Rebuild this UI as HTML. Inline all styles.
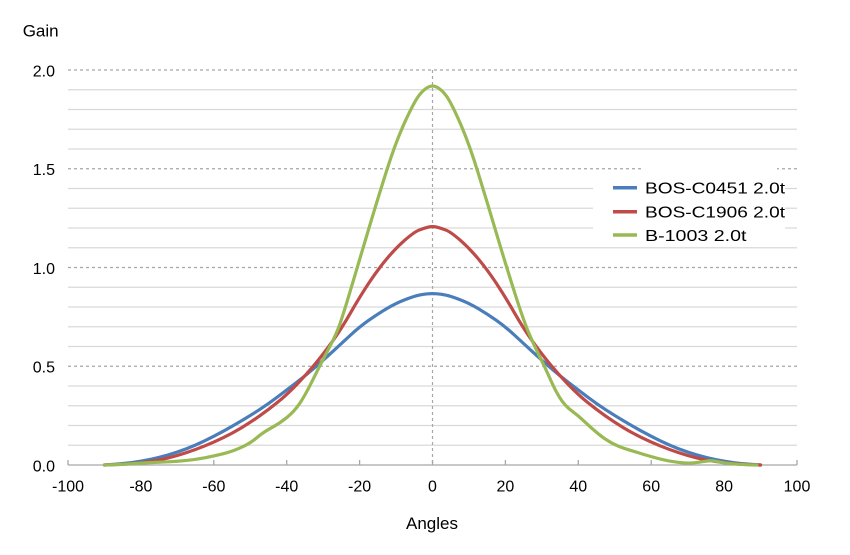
<!DOCTYPE html>
<html><head><meta charset="utf-8"><style>
html,body{margin:0;padding:0;background:#fff;}
svg{display:block;}
text{font-family:"Liberation Sans","Noto Sans CJK JP",sans-serif;fill:#000;}
</style></head><body>
<svg width="850" height="555" viewBox="0 0 850 555" xmlns="http://www.w3.org/2000/svg">
<rect x="0" y="0" width="850" height="555" fill="#fff"/>
<g stroke="#d9d9d9" stroke-width="1.3">
<line x1="68" x2="797" y1="445.25" y2="445.25"/>
<line x1="68" x2="797" y1="425.5" y2="425.5"/>
<line x1="68" x2="797" y1="405.75" y2="405.75"/>
<line x1="68" x2="797" y1="386" y2="386"/>
<line x1="68" x2="797" y1="346.5" y2="346.5"/>
<line x1="68" x2="797" y1="326.75" y2="326.75"/>
<line x1="68" x2="797" y1="307" y2="307"/>
<line x1="68" x2="797" y1="287.25" y2="287.25"/>
<line x1="68" x2="797" y1="247.75" y2="247.75"/>
<line x1="68" x2="797" y1="228" y2="228"/>
<line x1="68" x2="797" y1="208.25" y2="208.25"/>
<line x1="68" x2="797" y1="188.5" y2="188.5"/>
<line x1="68" x2="797" y1="149" y2="149"/>
<line x1="68" x2="797" y1="129.25" y2="129.25"/>
<line x1="68" x2="797" y1="109.5" y2="109.5"/>
<line x1="68" x2="797" y1="89.75" y2="89.75"/>
</g>
<g stroke="#a6a6a6" stroke-width="1.2" stroke-dasharray="3,3">
<line x1="68" x2="797" y1="366.25" y2="366.25"/>
<line x1="68" x2="797" y1="267.5" y2="267.5"/>
<line x1="68" x2="797" y1="168.75" y2="168.75"/>
<line x1="68" x2="797" y1="70" y2="70"/>
<line x1="432.5" x2="432.5" y1="70" y2="465"/>
</g>
<g stroke="#a6a6a6" stroke-width="1.3">
<line x1="68" x2="797" y1="465" y2="465"/>
<line x1="68" x2="68" y1="460" y2="465"/>
<line x1="140.9" x2="140.9" y1="460" y2="465"/>
<line x1="213.8" x2="213.8" y1="460" y2="465"/>
<line x1="286.7" x2="286.7" y1="460" y2="465"/>
<line x1="359.6" x2="359.6" y1="460" y2="465"/>
<line x1="432.5" x2="432.5" y1="460" y2="465"/>
<line x1="505.4" x2="505.4" y1="460" y2="465"/>
<line x1="578.3" x2="578.3" y1="460" y2="465"/>
<line x1="651.2" x2="651.2" y1="460" y2="465"/>
<line x1="724.1" x2="724.1" y1="460" y2="465"/>
<line x1="797" x2="797" y1="460" y2="465"/>
</g>
<g fill="none" stroke-width="3.2" stroke-linejoin="round" stroke-linecap="round">
<path stroke="#4a7ebb" d="M104.45,465 L113.58,464.4 Q122.7,463.8 131.8,462.53 Q140.9,461.25 150,459.38 Q159.1,457.5 168.23,454.85 Q177.35,452.2 186.48,448.73 Q195.6,445.25 204.7,440.83 Q213.8,436.4 222.9,431.45 Q232,426.5 241.13,421.05 Q250.25,415.6 259.38,409.7 Q268.5,403.8 277.6,396.9 Q286.7,390 295.8,383.05 Q304.9,376.1 314.03,368.2 Q323.15,360.3 332.28,351.9 Q341.4,343.5 350.5,335.13 Q359.6,326.75 368.7,320.33 Q377.8,313.9 386.93,308.48 Q396.05,303.05 405.18,299.58 Q414.3,296.1 418.85,295.15 Q423.4,294.2 427.95,293.8 Q432.5,293.4 437.05,293.8 Q441.6,294.2 446.15,295.15 Q450.7,296.1 459.82,299.58 Q468.95,303.05 478.07,308.48 Q487.2,313.9 496.3,320.33 Q505.4,326.75 514.5,335.13 Q523.6,343.5 532.72,351.9 Q541.85,360.3 550.97,368.2 Q560.1,376.1 569.2,383.05 Q578.3,390 587.4,396.9 Q596.5,403.8 605.62,409.7 Q614.75,415.6 623.87,421.05 Q633,426.5 642.1,431.45 Q651.2,436.4 660.3,440.83 Q669.4,445.25 678.52,448.73 Q687.65,452.2 696.77,454.85 Q705.9,457.5 715,459.38 Q724.1,461.25 733.2,462.53 Q742.3,463.8 751.42,464.4 L760.55,465"/>
<path stroke="#be4b48" d="M104.45,465 L113.58,464.7 Q122.7,464.4 131.8,463.6 Q140.9,462.8 150,461.45 Q159.1,460.1 168.23,457.9 Q177.35,455.7 186.48,452.65 Q195.6,449.6 204.7,445.95 Q213.8,442.3 222.9,437.85 Q232,433.4 241.13,427.95 Q250.25,422.5 259.38,416.1 Q268.5,409.7 277.6,402.3 Q286.7,394.9 295.8,385.5 Q304.9,376.1 314.03,365.25 Q323.15,354.4 332.28,341.55 Q341.4,328.7 350.5,312.9 Q359.6,297.1 368.7,283.3 Q377.8,269.5 386.93,258.63 Q396.05,247.75 405.18,239.85 Q414.3,231.95 418.85,230.18 Q423.4,228.4 427.95,227.2 Q432.5,226 437.05,227.2 Q441.6,228.4 446.15,230.18 Q450.7,231.95 459.82,239.85 Q468.95,247.75 478.07,258.63 Q487.2,269.5 496.3,283.3 Q505.4,297.1 514.5,312.9 Q523.6,328.7 532.72,341.55 Q541.85,354.4 550.97,365.25 Q560.1,376.1 569.2,385.5 Q578.3,394.9 587.4,402.3 Q596.5,409.7 605.62,416.1 Q614.75,422.5 623.87,427.95 Q633,433.4 642.1,437.85 Q651.2,442.3 660.3,445.95 Q669.4,449.6 678.52,452.65 Q687.65,455.7 696.77,457.9 Q705.9,460.1 715,461.45 Q724.1,462.8 733.2,463.6 Q742.3,464.4 751.42,464.7 L760.55,465"/>
<path stroke="#98b954" d="M104.45,465 L113.58,464.7 Q122.7,464.4 131.8,463.7 Q140.9,463 150,462.6 Q159.1,462.2 168.23,461.8 Q177.35,461.4 186.48,460.45 Q195.6,459.5 204.7,457.8 Q213.8,456.1 222.9,453.85 Q232,451.6 241.13,447.45 Q250.25,443.3 256.63,437.85 Q263,432.4 271.2,427.95 Q279.4,423.5 286.7,417.6 Q294,411.7 299.45,403.8 Q304.9,395.9 312.2,381.08 Q319.5,366.25 326.8,352.43 Q334.1,338.6 337.75,329.7 Q341.4,320.8 350.5,290.2 Q359.6,259.6 368.7,229 Q377.8,198.4 386.93,169.75 Q396.05,141.1 405.18,121.35 Q414.3,101.6 418.85,95.68 Q423.4,89.75 427.95,87.28 Q432.5,84.8 437.05,87.28 Q441.6,89.75 446.15,95.68 Q450.7,101.6 459.83,122.35 Q468.95,143.1 478.08,172.7 Q487.2,202.3 496.3,232.93 Q505.4,263.55 514.5,292.18 Q523.6,320.8 529.1,333.65 Q534.6,346.5 540.05,357.35 Q545.5,368.2 550.25,379.1 Q555,390 559.9,397.88 Q564.8,405.75 571.55,410.68 Q578.3,415.6 585.05,422.05 Q591.8,428.5 598.35,433.9 Q604.9,439.3 611.65,442.95 Q618.4,446.6 626.8,449.2 Q635.2,451.8 643.2,454.25 Q651.2,456.7 659.6,458.88 Q668,461.05 677.83,462.33 Q687.65,463.6 694.93,462.7 Q702.2,461.8 706.95,461.05 Q711.7,460.3 717.9,461.65 Q724.1,463 733.2,463.8 Q742.3,464.6 749.6,464.8 L756.9,465"/>
</g>
<rect x="593" y="170" width="192" height="76" fill="#fff"/>
<rect x="643" y="166.5" width="134" height="4" fill="#fff"/>
<g stroke-width="3.5" stroke-linecap="butt">
<line x1="613" x2="637" y1="187.7" y2="187.7" stroke="#4a7ebb"/>
<line x1="613" x2="637" y1="211.7" y2="211.7" stroke="#be4b48"/>
<line x1="613" x2="637" y1="235" y2="235" stroke="#98b954"/>
</g>
<g font-size="16">
<text x="645" y="193.5" textLength="140" lengthAdjust="spacingAndGlyphs">BOS-C0451 2.0t</text>
<text x="645" y="217.5" textLength="140" lengthAdjust="spacingAndGlyphs">BOS-C1906 2.0t</text>
<text x="645" y="241" textLength="101.5" lengthAdjust="spacingAndGlyphs">B-1003 2.0t</text>
</g>
<g font-size="16" text-anchor="end">
<text x="55" y="76.5">2.0</text>
<text x="55" y="175.2">1.5</text>
<text x="55" y="274">1.0</text>
<text x="55" y="372.7">0.5</text>
<text x="55" y="471.5">0.0</text>
</g>
<g font-size="16" text-anchor="middle">
<text x="68" y="491.5">-100</text>
<text x="140.9" y="491.5">-80</text>
<text x="213.8" y="491.5">-60</text>
<text x="286.7" y="491.5">-40</text>
<text x="359.6" y="491.5">-20</text>
<text x="432.5" y="491.5">0</text>
<text x="505.4" y="491.5">20</text>
<text x="578.3" y="491.5">40</text>
<text x="651.2" y="491.5">60</text>
<text x="724.1" y="491.5">80</text>
<text x="797" y="491.5">100</text>
</g>
<text x="22.7" y="36.5" font-size="17">Gain</text>
<text x="432" y="529" font-size="17" text-anchor="middle">Angles</text>
</svg>
</body></html>
